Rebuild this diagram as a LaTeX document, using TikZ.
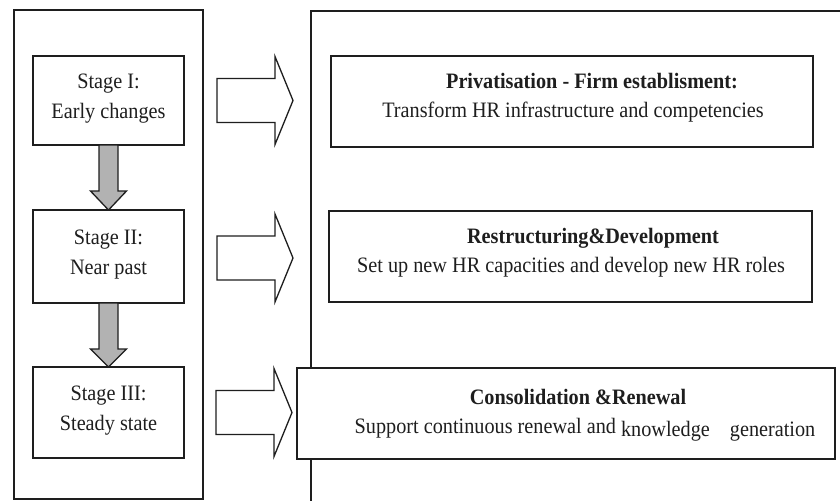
\documentclass[tikz,border=0pt]{standalone}
\usepackage{fontspec}
\setmainfont{Liberation Serif}[FakeStretch=0.92]
\usetikzlibrary{calc}
\definecolor{ink}{HTML}{1E1E1E}
\begin{document}
\begin{tikzpicture}[x=1pt,y=-1pt,
  frame/.style={draw=ink, line width=1.4pt, fill=white, inner sep=0pt, outer sep=0pt},
  txt/.style={font=\fontsize{22}{26}\selectfont, text=ink, anchor=base, inner sep=0pt},
  ttl/.style={txt, font=\fontsize{22}{26}\selectfont\bfseries},
  grayarr/.style={draw=ink, line width=1.3pt, fill=black!30, line join=miter},
  warr/.style={draw=ink, line width=1.3pt, fill=white, line join=miter},
  whitearrow/.pic={\draw[warr] (0,-22) -- (58,-22) -- (58,-44) -- (76,0) -- (58,44) -- (58,22) -- (0,22) -- cycle;}]
\useasboundingbox (0,0) rectangle (840,501);
\fill[white] (0,0) rectangle (840,501);

% left panel
\node[frame, minimum width=189, minimum height=489] (leftpanel) at (108.5,254.5) {};
% right panel (open to the right and bottom)
\coordinate (rpTR) at (840,11);
\coordinate (rpTL) at (311,11);
\coordinate (rpBL) at (311,501);
\draw[draw=ink, line width=1.4pt] (rpTR) -- (rpTL) -- (rpBL);

% stage boxes
\node[frame, minimum width=151, minimum height=89] (s1) at (108.5,100.5) {};
\node[frame, minimum width=151, minimum height=93] (s2) at (108.5,256.5) {};
\node[frame, minimum width=151, minimum height=91] (s3) at (108.5,412.5) {};

\node[txt] (s1a) at (108.5,88) {Stage I:};
\node[txt] (s1b) at (108.5,118) {Early changes};
\node[txt] (s2a) at (108.5,244) {Stage II:};
\node[txt] (s2b) at (108.5,274) {Near past};
\node[txt] (s3a) at (108.5,400) {Stage III:};
\node[txt] (s3b) at (108.5,430) {Steady state};

% gray arrows between stages
\draw[grayarr] ($(s1.south)+(-9.5,0)$) -- ($(s2.north)+(-9.5,-19)$) -- ($(s2.north)+(-18,-19)$)
  -- (s2.north) -- ($(s2.north)+(18,-19)$) -- ($(s2.north)+(9.5,-19)$) -- ($(s1.south)+(9.5,0)$) -- cycle;
\draw[grayarr] ($(s2.south)+(-9.5,0)$) -- ($(s3.north)+(-9.5,-18)$) -- ($(s3.north)+(-18,-18)$)
  -- (s3.north) -- ($(s3.north)+(18,-18)$) -- ($(s3.north)+(9.5,-18)$) -- ($(s2.south)+(9.5,0)$) -- cycle;

% white block arrows
\pic at (217,100.5) {whitearrow};
\pic at (217,258) {whitearrow};
\pic at (216,412.5) {whitearrow};

% right boxes
\node[frame, minimum width=482, minimum height=91] (r1) at (572,101.5) {};
\node[frame, minimum width=483, minimum height=91] (r2) at (570.5,256.5) {};
\node[frame, minimum width=538, minimum height=91] (r3) at (566,413.5) {};

\node[ttl] (r1a) at (592,88) {Privatisation - Firm establisment:};
\node[txt] (r1b) at (573,117) {Transform HR infrastructure and competencies};
\node[ttl] (r2a) at (593,243) {Restructuring\&Development};
\node[txt] (r2b) at (571,272) {Set up new HR capacities and develop new HR roles};
\node[ttl] (r3a) at (578,404) {Consolidation \&Renewal};
\node[txt] (r3b) at (585,433) {Support continuous renewal and \raisebox{-3pt}{knowledge}\hspace{20pt}\raisebox{-3pt}{generation}};
\end{tikzpicture}
\end{document}
